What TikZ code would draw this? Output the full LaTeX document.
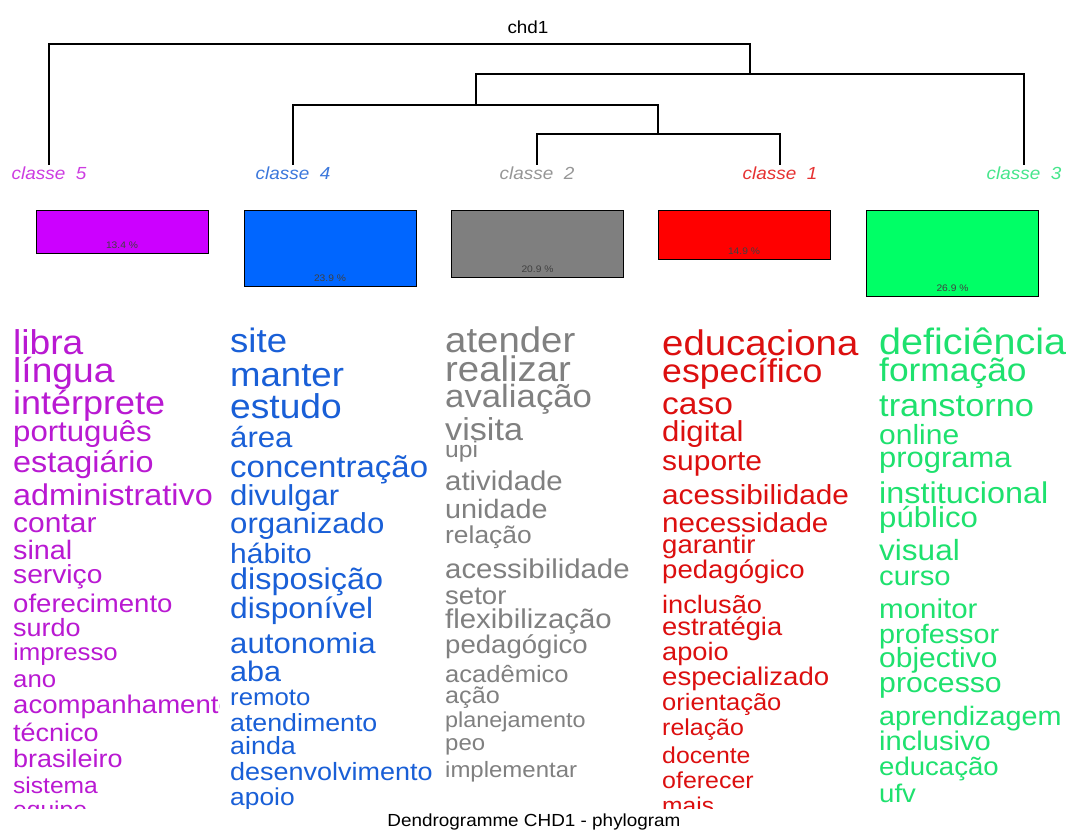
\documentclass[tikz,border=0pt]{standalone}
\usepackage{fontspec}
\setmainfont{Liberation Sans}[FakeStretch=1.08]
\usetikzlibrary{positioning}

\definecolor{bar5}{RGB}{204,0,255}
\definecolor{bar4}{RGB}{0,102,255}
\definecolor{bar2}{RGB}{127,127,127}
\definecolor{bar1}{RGB}{255,0,0}
\definecolor{bar3}{RGB}{0,255,102}
\definecolor{word5}{RGB}{185,25,210}
\definecolor{word4}{RGB}{25,95,215}
\definecolor{word2}{RGB}{128,128,128}
\definecolor{word1}{RGB}{220,15,15}
\definecolor{word3}{RGB}{30,225,110}
\definecolor{lab5}{RGB}{205,60,225}
\definecolor{lab4}{RGB}{60,120,220}
\definecolor{lab2}{RGB}{150,150,150}
\definecolor{lab1}{RGB}{230,50,50}
\definecolor{lab3}{RGB}{70,230,140}

\newcommand\wordsize[1]{\pgfmathsetmacro\fsz{#1*1.11}\fontsize{\fsz}{\fsz}\selectfont}

\tikzset{
  branch/.style={draw=black, line width=1.3pt},
  bar/.style={draw=black, line width=1pt, anchor=north, minimum width=172pt, inner sep=0pt},
  pct/.style={font=\fontsize{9.5}{10}\selectfont, text=black!75, inner sep=0pt},
  classlab/.style={font=\fontsize{17.5}{17.5}\selectfont\itshape, inner sep=0pt, outer sep=2pt},
  word/.style={anchor=base west, inner sep=0pt}
}

\begin{document}
\begin{tikzpicture}[x=1pt,y=-1pt]
\fill[white] (0,0) rectangle (1069,834);
\useasboundingbox (0,0) rectangle (1069,834);

\node[font=\fontsize{17.5}{17.5}\selectfont] (title) at (528,27) {chd1};

% class labels
\node[classlab, text=lab5] (cl5) at (49,173) {classe\ \ 5};
\node[classlab, text=lab4] (cl4) at (293,173) {classe\ \ 4};
\node[classlab, text=lab2] (cl2) at (537,173) {classe\ \ 2};
\node[classlab, text=lab1] (cl1) at (780,173) {classe\ \ 1};
\node[classlab, text=lab3] (cl3) at (1024,173) {classe\ \ 3};

% tree
\coordinate (mA) at (658,134);
\coordinate (mB) at (476,105);
\coordinate (mC) at (750,74);
\coordinate (mD) at (400,44);
\draw[branch] (cl2.north) |- (mA) -| (cl1.north);
\draw[branch] (cl4.north) |- (mB) -| (mA);
\draw[branch] (mB) |- (mC) -| (cl3.north);
\draw[branch] (cl5.north) |- (mD) -| (mC);

% bars
\node[bar, fill=bar5, minimum height=43pt] (b5) at (122,210) {};
\node[bar, fill=bar4, minimum height=76pt] (b4) at (330,210) {};
\node[bar, fill=bar2, minimum height=67pt] (b2) at (537.5,210) {};
\node[bar, fill=bar1, minimum height=49pt] (b1) at (744,210) {};
\node[bar, fill=bar3, minimum height=86pt] (b3) at (952.5,210) {};
\node[pct, above=5pt of b5.south] (p5) {13.4 \%};
\node[pct, above=5pt of b4.south] (p4) {23.9 \%};
\node[pct, above=5pt of b2.south] (p2) {20.9 \%};
\node[pct, above=5pt of b1.south] (p1) {14.9 \%};
\node[pct, above=5pt of b3.south] (p3) {26.9 \%};

% words, classe 5
\begin{scope}
\clip (0,320) rectangle (219,808);
\foreach \y/\s/\w [count=\i] in {355/31/libra, 383/31/língua, 414/30/intérprete,
    442/26/português, 472/27/estagiário, 505/27/administrativo, 532/25/contar,
    559/24/sinal, 583/23.5/serviço, 612/23/oferecimento, 636/22.5/surdo,
    660/21.5/impresso, 687/21.5/ano, 713/23/acompanhamento, 741/22.5/técnico,
    767/22.5/brasileiro, 793/20.5/sistema, 817/20.5/equipe}
  \node[word, text=word5, font=\wordsize{\s}] (w5-\i) at (13,\y) {\w};
\end{scope}

% words, classe 4
\begin{scope}
\clip (219,320) rectangle (440,808);
\foreach \y/\s/\w [count=\i] in {353/30.5/site, 387/30.5/manter, 419/31/estudo,
    447/26/área, 477/27.5/concentração, 505/26/divulgar, 533/26/organizado,
    563/25/hábito, 589/27/disposição, 618/26.5/disponível, 653/26/autonomia,
    681/25.5/aba, 705/21.5/remoto, 731/22.3/atendimento, 754/22.4/ainda,
    780/22.5/desenvolvimento, 805/22/apoio}
  \node[word, text=word4, font=\wordsize{\s}] (w4-\i) at (230,\y) {\w};
\end{scope}

% words, classe 2
\begin{scope}
\clip (440,320) rectangle (656,808);
\foreach \y/\s/\w [count=\i] in {353/32/atender, 382/32/realizar, 407/29/avaliação,
    440/28.5/visita, 457/20.5/upi, 490/24.5/atividade, 518/24/unidade,
    543/22/relação, 578/24.5/acessibilidade, 604/23/setor, 628/24.5/flexibilização,
    653/23/pedagógico, 682/21.3/acadêmico, 703/21/ação, 727/19.5/planejamento,
    750/20/peo, 777/20/implementar}
  \node[word, text=word2, font=\wordsize{\s}] (w2-\i) at (445,\y) {\w};
\end{scope}

% words, classe 1
\begin{scope}
\clip (656,320) rectangle (866,808);
\foreach \y/\s/\w [count=\i] in {356/32/educaciona, 383/29.7/específico, 414/28/caso,
    442/26/digital, 471/25/suporte, 504/24.8/acessibilidade, 532/24.7/necessidade,
    553/23/garantir, 578/23/pedagógico, 613/22.7/inclusão, 635/22.8/estratégia,
    660/22.7/apoio, 685/23/especializado, 710/21.3/orientação, 735/20.8/relação,
    763/20.7/docente, 788/20.8/oferecer, 813/20.5/mais}
  \node[word, text=word1, font=\wordsize{\s}] (w1-\i) at (662,\y) {\w};
\end{scope}

% words, classe 3
\begin{scope}
\clip (866,320) rectangle (1069,808);
\foreach \y/\s/\w [count=\i] in {355/33/deficiência, 382/29.5/formação, 417/28.7/transtorno,
    445/25/online, 467/25.8/programa, 503/27/institucional, 527/26/público,
    560/26.3/visual, 585/24.4/curso, 618/24.6/monitor, 643/24/professor,
    667/25/objectivo, 692/25.2/processo, 725/24/aprendizagem, 750/24.3/inclusivo,
    775/23/educação, 802/23/ufv}
  \node[word, text=word3, font=\wordsize{\s}] (w3-\i) at (879,\y) {\w};
\end{scope}

\node[font=\fontsize{17.5}{17.5}\selectfont] (foot) at (534,822) {Dendrogramme CHD1 - phylogram};
\end{tikzpicture}
\end{document}
